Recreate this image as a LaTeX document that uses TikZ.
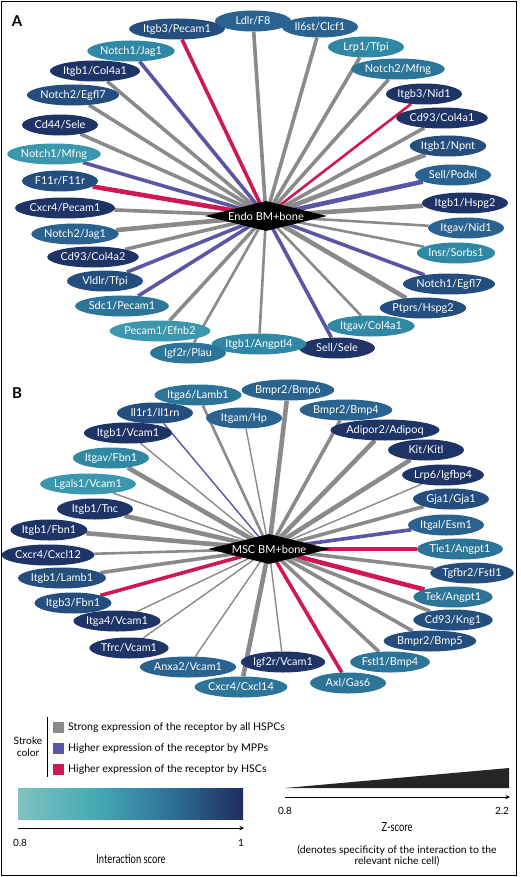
\documentclass[tikz,border=0pt]{standalone}
\usepackage{fontspec}
\setmainfont{Lato}
\usetikzlibrary{shapes.geometric,backgrounds}
\definecolor{Lone}{HTML}{3A97AE}
\definecolor{Ltwo}{HTML}{3088A5}
\definecolor{Lthree}{HTML}{2D7499}
\definecolor{Lfour}{HTML}{2A6390}
\definecolor{Lfive}{HTML}{244E7E}
\definecolor{Lsix}{HTML}{1E3466}
\definecolor{eGray}{HTML}{8A8A8A}
\definecolor{ePurple}{HTML}{5A55A5}
\definecolor{eRed}{HTML}{CF1752}
\definecolor{gA}{HTML}{7FC2C0}
\definecolor{gB}{HTML}{47AAB5}
\definecolor{gC}{HTML}{2F7599}
\definecolor{gD}{HTML}{1F2D5C}
\pgfdeclarehorizontalshading{iscore}{100bp}{color(0bp)=(gA); color(25bp)=(gA); color(42bp)=(gB); color(58bp)=(gC); color(75bp)=(gD); color(100bp)=(gD)}
\tikzset{
  lab/.style={ellipse, minimum width=76pt, minimum height=21pt, inner sep=0pt, text=white, font=\fontsize{10.9}{11}\selectfont},
  hub/.style={diamond, fill=black, minimum width=122pt, minimum height=30pt, inner sep=0pt, shape aspect=4, text=white, font=\fontsize{11}{12}\selectfont},
  eg/.style={draw=eGray}, ep/.style={draw=ePurple}, er/.style={draw=eRed},
  wa/.style={line width=1.4pt}, wb/.style={line width=2.6pt}, wc/.style={line width=3.6pt}, wd/.style={line width=4.6pt},
  legtxt/.style={font=\fontsize{10.6}{12}\selectfont, anchor=west, inner sep=0pt},
  panel/.style={font=\bfseries\fontsize{15}{16}\selectfont, inner sep=0pt}
}
\begin{document}
\begin{tikzpicture}[x=1pt,y=-1pt]
\useasboundingbox (0,0) rectangle (520,877);
\node[panel] (pA) at (17,21) {A};
\node[panel] (pB) at (17,393) {B};
% ---------------- Panel A ----------------
\node[hub] (dA) at (266,216) {Endo BM+bone};
\node[lab, fill=Lfive] (a1) at (177,29) {Itgb3/Pecam1};
\node[lab, fill=Lfour] (a2) at (253,21) {Ldlr/F8};
\node[lab, fill=Lfour] (a3) at (320,27) {Il6st/Clcf1};
\node[lab, fill=Ltwo] (a4) at (366,47) {Lrp1/Tfpi};
\node[lab, fill=Lthree] (a5) at (398,69) {Notch2/Mfng};
\node[lab, fill=Lsix] (a6) at (424,94) {Itgb3/Nid1};
\node[lab, fill=Lsix] (a7) at (442,118) {Cd93/Col4a1};
\node[lab, fill=Lfive] (a8) at (448,146) {Itgb1/Npnt};
\node[lab, fill=Lfour] (a9) at (453,175) {Sell/Podxl};
\node[lab, fill=Lsix] (a10) at (465,203) {Itgb1/Hspg2};
\node[lab, fill=Lfour] (a11) at (466,228) {Itgav/Nid1};
\node[lab, fill=Ltwo] (a12) at (456,253) {Insr/Sorbs1};
\node[lab, fill=Lfive] (a13) at (449,284) {Notch1/Egfl7};
\node[lab, fill=Lfive] (a14) at (423,308) {Ptprs/Hspg2};
\node[lab, fill=Ltwo] (a15) at (371,326) {Itgav/Col4a1};
\node[lab, fill=Lsix] (a16) at (337,348) {Sell/Sele};
\node[lab, fill=Ltwo] (a17) at (259,344) {Itgb1/Angptl4};
\node[lab, fill=Lthree] (a18) at (188,353) {Igf2r/Plau};
\node[lab, fill=Lone] (a19) at (160,331) {Pecam1/Efnb2};
\node[lab, fill=Lthree] (a20) at (122,306) {Sdc1/Pecam1};
\node[lab, fill=Lfive] (a21) at (105,281) {Vldlr/Tfpi};
\node[lab, fill=Lsix] (a22) at (93,257) {Cd93/Col4a2};
\node[lab, fill=Lfour] (a23) at (75,234) {Notch2/Jag1};
\node[lab, fill=Lsix] (a24) at (65,208) {Cxcr4/Pecam1};
\node[lab, fill=Lfive] (a25) at (60,181) {F11r/F11r};
\node[lab, fill=Lone] (a26) at (54,154) {Notch1/Mfng};
\node[lab, fill=Lsix] (a27) at (60,125) {Cd44/Sele};
\node[lab, fill=Lfive] (a28) at (73,95) {Notch2/Egfl7};
\node[lab, fill=Lsix] (a29) at (95,71) {Itgb1/Col4a1};
\node[lab, fill=Ltwo] (a30) at (131,51) {Notch1/Jag1};
% ---------------- Panel B ----------------
\node[hub] (dB) at (269,549) {MSC BM+bone};
\node[lab, fill=Lthree] (b1) at (198,395) {Itga6/Lamb1};
\node[lab, fill=Lfour] (b2) at (288,390) {Bmpr2/Bmp6};
\node[lab, fill=Lfive] (b3) at (155,413) {Il1r1/Il1rn};
\node[lab, fill=Lfour] (b4) at (244,418) {Itgam/Hp};
\node[lab, fill=Lfour] (b5) at (346,410) {Bmpr2/Bmp4};
\node[lab, fill=Lsix] (b6) at (128,433) {Itgb1/Vcam1};
\node[lab, fill=Lsix] (b7) at (385,430) {Adipor2/Adipoq};
\node[lab, fill=Ltwo] (b8) at (111,458) {Itgav/Fbn1};
\node[lab, fill=Lsix] (b9) at (426,450) {Kit/Kitl};
\node[lab, fill=Lone] (b10) at (88,484) {Lgals1/Vcam1};
\node[lab, fill=Lsix] (b11) at (443,475) {Lrp6/Igfbp4};
\node[lab, fill=Lsix] (b12) at (95,509) {Itgb1/Tnc};
\node[lab, fill=Lfive] (b13) at (451,499) {Gja1/Gja1};
\node[lab, fill=Lsix] (b14) at (49,530) {Itgb1/Fbn1};
\node[lab, fill=Lfour] (b15) at (446,525) {Itgal/Esm1};
\node[lab, fill=Lsix] (b16) at (48,555) {Cxcr4/Cxcl12};
\node[lab, fill=Lthree] (b17) at (460,549) {Tie1/Angpt1};
\node[lab, fill=Lfive] (b18) at (62,578) {Itgb1/Lamb1};
\node[lab, fill=Lfive] (b19) at (472,573) {Tgfbr2/Fstl1};
\node[lab, fill=Lfive] (b20) at (73,603) {Itgb3/Fbn1};
\node[lab, fill=Lthree] (b21) at (453,597) {Tek/Angpt1};
\node[lab, fill=Lsix] (b22) at (117,621) {Itga4/Vcam1};
\node[lab, fill=Lfive] (b23) at (453,620) {Cd93/Kng1};
\node[lab, fill=Lsix] (b24) at (129,648) {Tfrc/Vcam1};
\node[lab, fill=Lfive] (b25) at (430,641) {Bmpr2/Bmp5};
\node[lab, fill=Lfour] (b26) at (188,667) {Anxa2/Vcam1};
\node[lab, fill=Lthree] (b27) at (390,662) {Fstl1/Bmp4};
\node[lab, fill=Lthree] (b28) at (241,687) {Cxcr4/Cxcl14};
\node[lab, fill=Lthree] (b29) at (348,683) {Axl/Gas6};
\node[lab, fill=Lsix] (b30) at (283,662) {Igf2r/Vcam1};
\begin{scope}[on background layer]
\fill[white] (0,0) rectangle (520,877);
\draw[er,wc] (dA.center) -- (a1);
\draw[eg,wc] (dA.center) -- (a2);
\draw[eg,wc] (dA.center) -- (a3);
\draw[eg,wc] (dA.center) -- (a4);
\draw[eg,wc] (dA.center) -- (a5);
\draw[er,wb] (dA.center) -- (a6);
\draw[eg,wc] (dA.center) -- (a7);
\draw[eg,wd] (dA.center) -- (a8);
\draw[ep,wd] (dA.center) -- (a9);
\draw[eg,wd] (dA.center) -- (a10);
\draw[eg,wb] (dA.center) -- (a11);
\draw[eg,wb] (dA.center) -- (a12);
\draw[ep,wc] (dA.center) -- (a13);
\draw[eg,wd] (dA.center) -- (a14);
\draw[eg,wb] (dA.center) -- (a15);
\draw[ep,wc] (dA.center) -- (a16);
\draw[eg,wb] (dA.center) -- (a17);
\draw[eg,wb] (dA.center) -- (a18);
\draw[eg,wc] (dA.center) -- (a19);
\draw[ep,wc] (dA.center) -- (a20);
\draw[ep,wc] (dA.center) -- (a21);
\draw[eg,wc] (dA.center) -- (a22);
\draw[eg,wd] (dA.center) -- (a23);
\draw[eg,wc] (dA.center) -- (a24);
\draw[er,wd] (dA.center) -- (a25);
\draw[ep,wc] (dA.center) -- (a26);
\draw[eg,wc] (dA.center) -- (a27);
\draw[eg,wc] (dA.center) -- (a28);
\draw[eg,wc] (dA.center) -- (a29);
\draw[ep,wc] (dA.center) -- (a30);
\draw[eg,wb] (dB.center) -- (b1);
\draw[eg,wd] (dB.center) -- (b2);
\draw[ep,wa] (dB.center) -- (b3);
\draw[eg,wa] (dB.center) -- (b4);
\draw[eg,wc] (dB.center) -- (b5);
\draw[eg,wa] (dB.center) -- (b6);
\draw[eg,wd] (dB.center) -- (b7);
\draw[eg,wd] (dB.center) -- (b8);
\draw[eg,wd] (dB.center) -- (b9);
\draw[eg,wa] (dB.center) -- (b10);
\draw[eg,wa] (dB.center) -- (b11);
\draw[eg,wd] (dB.center) -- (b12);
\draw[eg,wc] (dB.center) -- (b13);
\draw[eg,wd] (dB.center) -- (b14);
\draw[ep,wc] (dB.center) -- (b15);
\draw[eg,wb] (dB.center) -- (b16);
\draw[er,wd] (dB.center) -- (b17);
\draw[eg,wc] (dB.center) -- (b18);
\draw[eg,wc] (dB.center) -- (b19);
\draw[er,wc] (dB.center) -- (b20);
\draw[er,wd] (dB.center) -- (b21);
\draw[eg,wa] (dB.center) -- (b22);
\draw[eg,wc] (dB.center) -- (b23);
\draw[eg,wa] (dB.center) -- (b24);
\draw[eg,wc] (dB.center) -- (b25);
\draw[eg,wa] (dB.center) -- (b26);
\draw[eg,wc] (dB.center) -- (b27);
\draw[eg,wd] (dB.center) -- (b28);
\draw[er,wc] (dB.center) -- (b29);
\draw[eg,wa] (dB.center) -- (b30);
\end{scope}
\draw[line width=1pt] (1.5,1.5) rectangle (516.5,875.5);
% ---------------- Legend ----------------
\node[align=center, font=\fontsize{10.2}{12}\selectfont, inner sep=0pt] (sc) at (28,747) {Stroke\\color};
\draw[line width=1pt] (47,717) -- (47,777);
\node[fill=eGray, minimum size=11pt, inner sep=0pt] (sq1) at (58.5,727.5) {};
\node[fill=ePurple, minimum size=11pt, inner sep=0pt] (sq2) at (58.5,748.5) {};
\node[fill=eRed, minimum size=11pt, inner sep=0pt] (sq3) at (58.5,769.5) {};
\node[legtxt] (t1) at (68,727.5) {Strong expression of the receptor by all HSPCs};
\node[legtxt] (t2) at (68,748.5) {Higher expression of the receptor by MPPs};
\node[legtxt] (t3) at (68,769.5) {Higher expression of the receptor by HSCs};
\shade[shading=iscore] (18,788) rectangle (243,819);
\coordinate (ia0) at (18,828);
\coordinate (ia1) at (244,828);
\draw[line width=1pt, -stealth] (ia0) -- (ia1);
\node[font=\fontsize{10}{10}\selectfont] (i0) at (20,843) {0.8};
\node[font=\fontsize{10}{10}\selectfont] (i1) at (241,843) {1};
\node (is) at (131,859) {\scalebox{0.75}[1]{\fontsize{12.5}{14}\selectfont Interaction score}};
\fill[black!85] (285,788) -- (509,768) -- (509,788) -- cycle;
\coordinate (za0) at (285,797);
\coordinate (za1) at (510,797);
\draw[line width=1pt, -stealth] (za0) -- (za1);
\node[font=\fontsize{10}{10}\selectfont] (z0) at (285,811) {0.8};
\node[font=\fontsize{10}{10}\selectfont] (z1) at (502,811) {2.2};
\node (zs) at (397,827) {\scalebox{0.75}[1]{\fontsize{12.5}{14}\selectfont Z-score}};
\node[align=center, font=\fontsize{10.4}{11.5}\selectfont, inner sep=0pt] (zd) at (397,855.5) {(denotes specificity of the interaction to the\\relevant niche cell)};
\end{tikzpicture}
\end{document}
